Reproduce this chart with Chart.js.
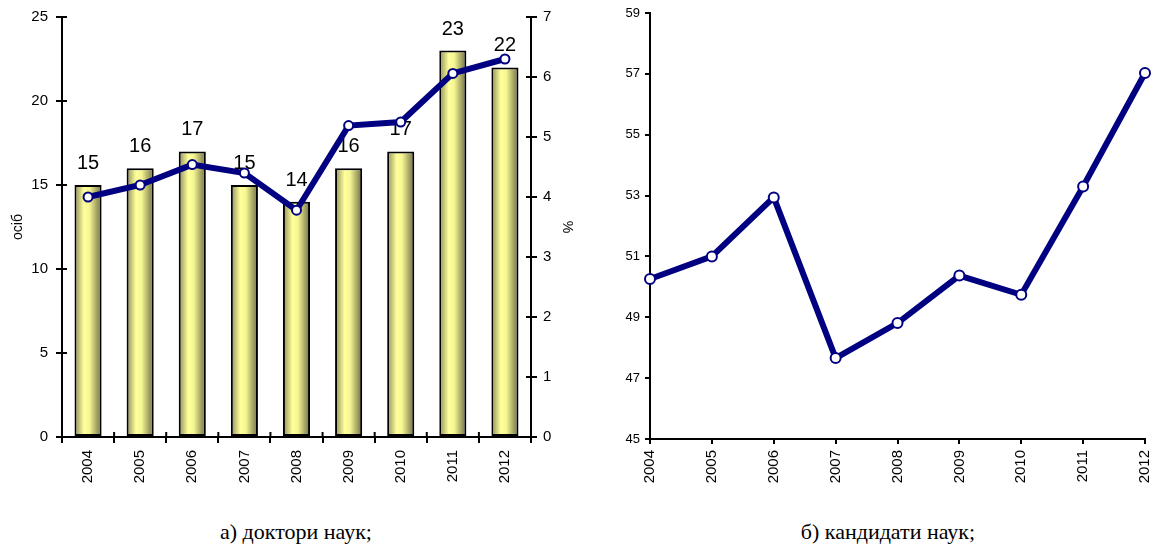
<!DOCTYPE html>
<html>
<head>
<meta charset="utf-8">
<script src="https://cdn.jsdelivr.net/npm/chart.js@4.4.1/dist/chart.umd.min.js"></script>
<style>
body{margin:0;background:#fff;width:1154px;height:550px;position:relative;overflow:hidden}
#leftChart{position:absolute;left:0;top:0}
#rightChart{position:absolute;left:600px;top:0}
.caption{position:absolute;top:519px;width:400px;text-align:center;font-family:"Liberation Serif","Times New Roman",serif;font-size:22px;line-height:26px;color:#000}
</style>
</head>
<body>
<canvas id="leftChart" width="600" height="510"></canvas>
<canvas id="rightChart" width="554" height="510"></canvas>
<div class="caption" style="left:96px">а) доктори наук;</div>
<div class="caption" style="left:688px">б) кандидати наук;</div>
<script>
var years = ['2004', '2005', '2006', '2007', '2008', '2009', '2010', '2011', '2012']
var doctorsCount = [15, 16, 17, 15, 14, 16, 17, 23, 22]      // осіб
var doctorsShare = [4.0, 4.2, 4.54, 4.4, 3.78, 5.19, 5.25, 6.06, 6.3]   // %
var candidatesShare = [50.26, 51.0, 52.94, 47.66, 48.81, 50.37, 49.74, 53.3, 57.03]

Chart.defaults.font.family = '"Liberation Sans", Arial, sans-serif'
Chart.defaults.color = '#000'

var navy = '#000080'

// bar fill: olive-yellow cylinder look
function barFill(ctx) {
    var chart = ctx.chart
    var xs = chart.scales.x
    if (!xs || ctx.type !== 'data' || !xs.width) return '#f8f89a'
    var cx = xs.getPixelForValue(ctx.dataIndex)
    var half = xs.width / years.length * 0.52 / 2
    var g = chart.ctx.createLinearGradient(cx - half, 0, cx + half, 0)
    g.addColorStop(0, '#8c8c58')
    g.addColorStop(0.35, '#ffff9c')
    g.addColorStop(0.55, '#f6f693')
    g.addColorStop(1, '#6c6c44')
    return g
}

// value labels over the bars, drawn before the line so the line covers them
var barLabels = {
    id: 'barLabels',
    afterDatasetDraw: function(chart, args) {
        if (args.index !== 0) return
        var c = chart.ctx
        c.save()
        c.font = '20px "Liberation Sans", Arial, sans-serif'
        c.fillStyle = '#000'
        c.textAlign = 'center'
        c.textBaseline = 'alphabetic'
        args.meta.data.forEach(function(bar, i) {
            c.fillText(doctorsCount[i], bar.x, bar.y - 16)
        })
        c.restore()
    }
}

// the left chart's tick marks cross the axis lines
var innerTicks = {
    id: 'innerTicks',
    afterDraw: function(chart) {
        var c = chart.ctx
        var a = chart.chartArea
        c.save()
        c.strokeStyle = '#000'
        c.lineWidth = 2
        c.beginPath()
        chart.scales.y.ticks.forEach(function(t) {
            var py = chart.scales.y.getPixelForValue(t.value)
            c.moveTo(a.left, py); c.lineTo(a.left + 5, py)
        })
        chart.scales.y1.ticks.forEach(function(t) {
            var py = chart.scales.y1.getPixelForValue(t.value)
            c.moveTo(a.right, py); c.lineTo(a.right - 5, py)
        })
        var step = (a.right - a.left) / years.length
        for (var i = 1; i < years.length; i++) {
            var px = a.left + step * i
            c.moveTo(px, a.bottom); c.lineTo(px, a.bottom - 5)
        }
        c.stroke()
        c.restore()
    }
}

function axisGrid(len) {
    return {drawOnChartArea: false, color: '#000', lineWidth: 2, tickLength: len}
}
var axisBorder = {color: '#000', width: 2}

new Chart(document.getElementById('leftChart'), {
    data: {
        labels: years,
        datasets: [{
            type: 'bar',
            label: 'осіб',
            data: doctorsCount,
            yAxisID: 'y',
            order: 2,
            backgroundColor: barFill,
            borderColor: '#000',
            borderWidth: 2,
            borderSkipped: false,
            categoryPercentage: 1,
            barPercentage: 0.52
        }, {
            type: 'line',
            label: '%',
            data: doctorsShare,
            yAxisID: 'y1',
            order: 1,
            borderColor: navy,
            borderWidth: 6,
            tension: 0,
            pointRadius: 4.5,
            pointBackgroundColor: '#fff',
            pointBorderColor: navy,
            pointBorderWidth: 2,
            clip: false
        }]
    },
    options: {
        responsive: false,
        animation: false,
        layout: {padding: {top: 15, left: 0, right: 0, bottom: 0}},
        plugins: {legend: {display: false}, tooltip: {enabled: false}},
        scales: {
            x: {
                offset: true,
                grid: Object.assign(axisGrid(6), {offset: true}),
                border: axisBorder,
                ticks: {font: {size: 15}, maxRotation: 90, minRotation: 90, padding: 7},
                afterFit: function(s) { s.height = 73 }
            },
            y: {
                position: 'left',
                min: 0, max: 25,
                ticks: {stepSize: 5, font: {size: 15}, padding: 8},
                grid: axisGrid(6),
                border: axisBorder,
                title: {display: true, text: 'осіб', font: {size: 14}, padding: {top: 10, bottom: 0}},
                afterFit: function(s) { s.width = 62 }
            },
            y1: {
                position: 'right',
                min: 0, max: 7,
                ticks: {stepSize: 1, font: {size: 15}, padding: 6},
                grid: axisGrid(6),
                border: axisBorder,
                title: {display: true, text: '%', font: {size: 14}, padding: {top: 25, bottom: 0}},
                afterFit: function(s) { s.width = 69 }
            }
        }
    },
    plugins: [barLabels, innerTicks]
})

new Chart(document.getElementById('rightChart'), {
    type: 'line',
    data: {
        labels: years,
        datasets: [{
            data: candidatesShare,
            borderColor: navy,
            borderWidth: 6,
            tension: 0,
            pointRadius: 5,
            pointBackgroundColor: '#fff',
            pointBorderColor: navy,
            pointBorderWidth: 2,
            clip: false
        }]
    },
    options: {
        responsive: false,
        animation: false,
        layout: {padding: {top: 13, left: 0, right: 9, bottom: 0}},
        plugins: {legend: {display: false}, tooltip: {enabled: false}},
        scales: {
            x: {
                offset: false,
                grid: axisGrid(5),
                border: axisBorder,
                ticks: {font: {size: 15}, maxRotation: 90, minRotation: 90, padding: 6},
                afterFit: function(s) {
                    s.height = 71
                    s.paddingLeft = 0
                    s.paddingRight = 0
                }
            },
            y: {
                min: 45, max: 59,
                ticks: {stepSize: 2, font: {size: 13}, padding: 5},
                grid: axisGrid(5),
                border: axisBorder,
                afterFit: function(s) { s.width = 50 }
            }
        }
    }
})
</script>
</body>
</html>
